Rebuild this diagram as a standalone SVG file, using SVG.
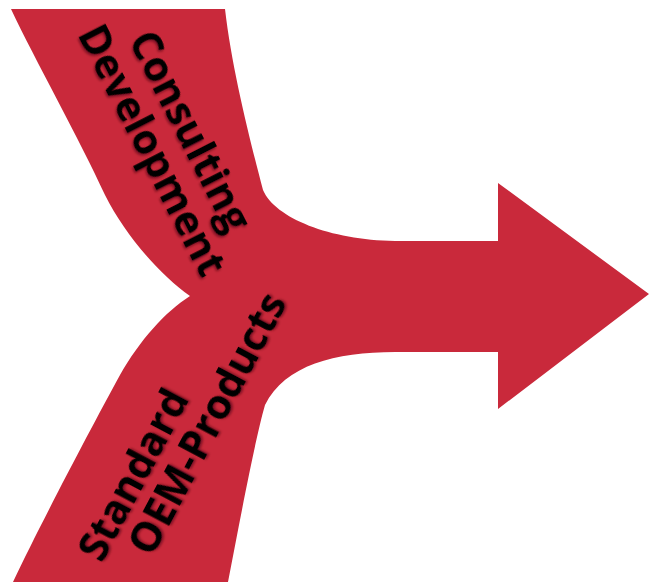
<svg xmlns="http://www.w3.org/2000/svg" width="650" height="584" viewBox="0 0 650 584">
  <defs>
    <style>
      .band { fill: #C9293B; }
      .lbl { font-family: "Open Sans", "Liberation Sans", sans-serif; font-weight: 700; font-size: 41px; fill: #000000; filter: url(#emboss); }
    </style>
    <filter id="emboss" x="-10%" y="-30%" width="120%" height="160%">
      <feDropShadow dx="1.2" dy="1.8" stdDeviation="1.2" flood-color="#4a0610" flood-opacity="0.6"/>
    </filter>
  </defs>
  <rect width="650" height="584" fill="#ffffff"/>
  <g id="arrow">
    <path class="band" d="M 11,9 L 225,9 C 232,70 250,140 263,190 C 275,218 330,240 395,241 L 498,241 L 498,183 L 649,294 L 498,409 L 498,352 L 395,352 C 335,352 285,365 265,405 C 255,440 240,520 228,582 L 13,582 C 40,525 90,430 120,375 C 140,340 165,312 190,296 C 160,275 125,235 105,195 C 80,140 35,60 11,9 Z"/>
  </g>
  <g id="label-top">
    <text class="lbl" transform="translate(128,40) rotate(63)">Consulting</text>
    <text class="lbl" transform="translate(77,34) rotate(63)">Development</text>
  </g>
  <g id="label-bottom">
    <text class="lbl" transform="translate(102,564) rotate(-62)">Standard</text>
    <text class="lbl" transform="translate(152,558) rotate(-62)">OEM-Products</text>
  </g>
</svg>
